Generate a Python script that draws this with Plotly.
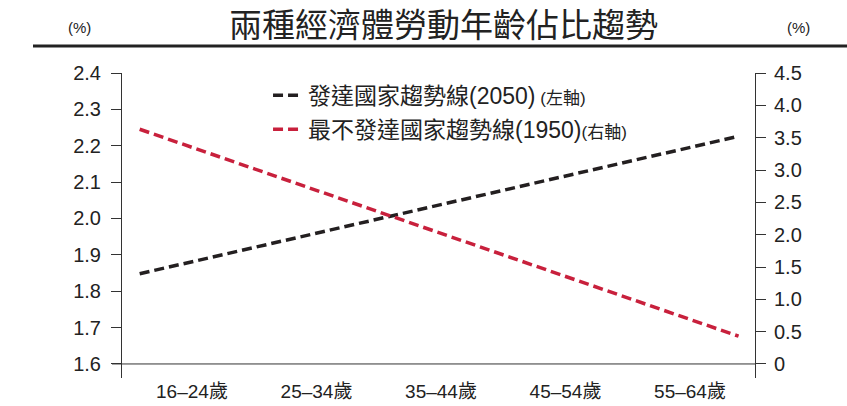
import plotly.graph_objects as go

title_text = "兩種經濟體勞動年齡佔比趨勢"
age_groups = ["16–24歲", "25–34歲", "35–44歲", "45–54歲", "55–64歲"]
# straight trend lines: start/end positions (in category units) and values
trend_x = [-0.42, 4.39]
developed_2050 = [1.848, 2.226]      # left axis (%)
least_dev_1950 = [3.63, 0.43]        # right axis (%)
left_ticks = [1.6, 1.7, 1.8, 1.9, 2.0, 2.1, 2.2, 2.3, 2.4]
right_ticks = [0, 0.5, 1.0, 1.5, 2.0, 2.5, 3.0, 3.5, 4.0, 4.5]
right_ticktext = ["0", "0.5", "1.0", "1.5", "2.0", "2.5", "3.0", "3.5", "4.0", "4.5"]
name1 = "發達國家趨勢線(2050)<span style='font-size:17px'> (左軸)</span>"
name2 = "最不發達國家趨勢線(1950)<span style='font-size:17px'>(右軸)</span>"

FONT = "Liberation Sans, Arial, Noto Sans CJK TC, sans-serif"
BLACK = "#231f20"
RED = "#c8203c"
AXC = "#333333"

fig = go.Figure()
fig.add_trace(go.Scatter(x=trend_x, y=developed_2050, mode="lines", name=name1,
                         line=dict(color=BLACK, width=3.5, dash="10px,5px"),
                         legendgroup="a", yaxis="y"))
fig.add_trace(go.Scatter(x=trend_x, y=least_dev_1950, mode="lines", name=name2,
                         line=dict(color=RED, width=3.5, dash="10px,5px"),
                         legendgroup="b", yaxis="y2"))

fig.update_layout(
    width=847, height=406,
    margin=dict(l=122, r=92, t=73, b=28, autoexpand=False),
    paper_bgcolor="white", plot_bgcolor="white",
    font=dict(family=FONT, color="#222222"),
    showlegend=True,
    legend=dict(x=0.2307, y=0.997, xanchor="left", yanchor="top",
                font=dict(size=23, family="Liberation Sans, Noto Sans CJK TC", color="#222"),
                bgcolor="rgba(0,0,0,0)", tracegroupgap=1, itemwidth=30),
    xaxis=dict(range=[-0.562, 4.522], tickvals=list(range(len(age_groups))),
               ticktext=age_groups, showgrid=False, zeroline=False, showline=False,
               automargin=False, ticks="", tickfont=dict(size=19, color="#222")),
    yaxis=dict(range=[1.5614, 2.4], tickvals=left_ticks,
               ticktext=[f"{v:.1f}" for v in left_ticks], automargin=False,
               showgrid=False, zeroline=False, showline=True, linecolor=AXC, linewidth=1,
               ticks="outside", ticklen=10, tickcolor=AXC, tickwidth=1,
               ticklabelstandoff=6,
               tickfont=dict(size=20, color="#222")),
    yaxis2=dict(range=[-0.2166, 4.5], tickvals=right_ticks, ticktext=right_ticktext,
                overlaying="y", side="right", showgrid=False, zeroline=False,
                showline=True, linecolor=AXC, linewidth=1, automargin=False,
                ticks="outside", ticklen=10, tickcolor=AXC, tickwidth=1,
                ticklabelstandoff=4,
                tickfont=dict(size=20, color="#222")),
)

# x-axis baseline at 1.6
fig.add_shape(type="line", xref="paper", yref="y", x0=-0.0158, x1=1, y0=1.6, y1=1.6,
              line=dict(color=AXC, width=1))
# rule under title
fig.add_shape(type="line", xref="paper", yref="paper", x0=(33-122)/633, x1=(847-122)/633,
              y0=(378-46)/305, y1=(378-46)/305, line=dict(color="#222", width=3))

fig.add_annotation(text=title_text, xref="paper", yref="paper",
                   x=(443-122)/633, y=(378-23)/305, xanchor="center", yanchor="middle",
                   showarrow=False, font=dict(size=33, family="Noto Sans CJK TC", color="#222"))
fig.add_annotation(text="(%)", xref="paper", yref="paper",
                   x=(79-122)/633, y=(378-27)/305, xanchor="center", yanchor="middle",
                   showarrow=False, font=dict(size=15, color="#222"))
fig.add_annotation(text="(%)", xref="paper", yref="paper",
                   x=(798-122)/633, y=(378-27)/305, xanchor="center", yanchor="middle",
                   showarrow=False, font=dict(size=15, color="#222"))

fig.write_html("out.html")
